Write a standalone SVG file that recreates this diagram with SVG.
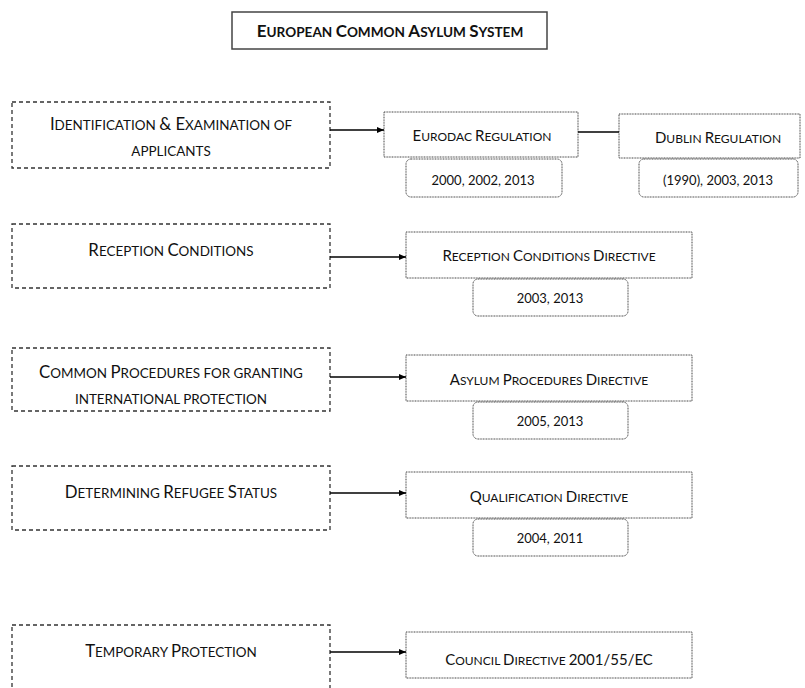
<svg xmlns="http://www.w3.org/2000/svg" width="805" height="688" viewBox="0 0 805 688">
<defs>
<marker id="arr" markerWidth="8" markerHeight="8" refX="7" refY="4" orient="auto" markerUnits="userSpaceOnUse">
<path d="M0,1 L7,4 L0,7 Z" fill="#000"/>
</marker>
<style>
text{font-family:Lato,"Liberation Sans",sans-serif;fill:#111;text-anchor:middle}
.s{font-size:0.8em}
.title{font-weight:bold;font-size:17px}
.area rect{fill:#fff;stroke:#333;stroke-width:1.3;stroke-dasharray:4 3}
.area text{font-size:16.8px}
.law rect{fill:#fff;stroke:#444;stroke-width:1;stroke-dasharray:1 0.6}
.law text{font-size:15px}
.year rect{fill:#fff;stroke:#444;stroke-width:1;stroke-dasharray:1 0.6}
.year text{font-size:13px}
.conn line{stroke:#000;stroke-width:1.5}
</style>
</defs>
<rect width="805" height="688" fill="#fff"/>
<g id="title"><rect x="232" y="12" width="315" height="37" fill="#fff" stroke="#444" stroke-width="1.5"/><text class="title" x="390" y="37">E<tspan class="s">UROPEAN </tspan>C<tspan class="s">OMMON </tspan>A<tspan class="s">SYLUM </tspan>S<tspan class="s">YSTEM</tspan></text></g>

<g id="a1" class="area"><rect x="12" y="102" width="318" height="66"/><text x="171" y="130">I<tspan class="s">DENTIFICATION </tspan>&amp; E<tspan class="s">XAMINATION OF</tspan></text><text x="171" y="156"><tspan class="s">APPLICANTS</tspan></text></g>
<g id="a2" class="area"><rect x="12" y="224" width="318" height="64"/><text x="171" y="256">R<tspan class="s">ECEPTION </tspan>C<tspan class="s">ONDITIONS</tspan></text></g>
<g id="a3" class="area"><rect x="12" y="348" width="318" height="63"/><text x="171" y="378">C<tspan class="s">OMMON </tspan>P<tspan class="s">ROCEDURES FOR GRANTING</tspan></text><text x="171" y="404"><tspan class="s">INTERNATIONAL PROTECTION</tspan></text></g>
<g id="a4" class="area"><rect x="12" y="466" width="318" height="64"/><text x="171" y="498">D<tspan class="s">ETERMINING </tspan>R<tspan class="s">EFUGEE </tspan>S<tspan class="s">TATUS</tspan></text></g>
<g id="a5" class="area"><rect x="12" y="625" width="318" height="70"/><text x="171" y="657">T<tspan class="s">EMPORARY </tspan>P<tspan class="s">ROTECTION</tspan></text></g>

<g id="eurodac" class="law"><rect x="384" y="112" width="194" height="45"/><text x="482" y="141">E<tspan class="s">URODAC </tspan>R<tspan class="s">EGULATION</tspan></text></g>
<g id="eurodac-y" class="year"><rect x="406" y="159" width="156" height="38" rx="5"/><text x="483" y="185">2000, 2002, 2013</text></g>
<g id="dublin" class="law"><rect x="619" y="114" width="181" height="44"/><text x="718" y="143">D<tspan class="s">UBLIN </tspan>R<tspan class="s">EGULATION</tspan></text></g>
<g id="dublin-y" class="year"><rect x="639" y="159" width="159" height="38" rx="5"/><text x="718" y="185">(1990), 2003, 2013</text></g>
<g id="rcd" class="law"><rect x="406" y="232" width="286" height="46"/><text x="549" y="261">R<tspan class="s">ECEPTION </tspan>C<tspan class="s">ONDITIONS </tspan>D<tspan class="s">IRECTIVE</tspan></text></g>
<g id="rcd-y" class="year"><rect x="473" y="279" width="155" height="37" rx="5"/><text x="550" y="303">2003, 2013</text></g>
<g id="apd" class="law"><rect x="406" y="355" width="286" height="46"/><text x="549" y="385">A<tspan class="s">SYLUM </tspan>P<tspan class="s">ROCEDURES </tspan>D<tspan class="s">IRECTIVE</tspan></text></g>
<g id="apd-y" class="year"><rect x="473" y="402" width="155" height="37" rx="5"/><text x="550" y="426">2005, 2013</text></g>
<g id="qd" class="law"><rect x="406" y="472" width="286" height="46"/><text x="549" y="502">Q<tspan class="s">UALIFICATION </tspan>D<tspan class="s">IRECTIVE</tspan></text></g>
<g id="qd-y" class="year"><rect x="473" y="519" width="155" height="37" rx="5"/><text x="550" y="543">2004, 2011</text></g>
<g id="cd" class="law"><rect x="406" y="632" width="286" height="46"/><text x="549" y="665">C<tspan class="s">OUNCIL </tspan>D<tspan class="s">IRECTIVE </tspan>2001/55/EC</text></g>

<g id="connectors" class="conn">
<line x1="330" y1="130" x2="384" y2="130" marker-end="url(#arr)"/>
<line x1="578" y1="132" x2="619" y2="132"/>
<line x1="330" y1="257" x2="406" y2="257" marker-end="url(#arr)"/>
<line x1="330" y1="377" x2="406" y2="377" marker-end="url(#arr)"/>
<line x1="330" y1="493" x2="406" y2="493" marker-end="url(#arr)"/>
<line x1="330" y1="652" x2="406" y2="652" marker-end="url(#arr)"/>
</g>
</svg>
